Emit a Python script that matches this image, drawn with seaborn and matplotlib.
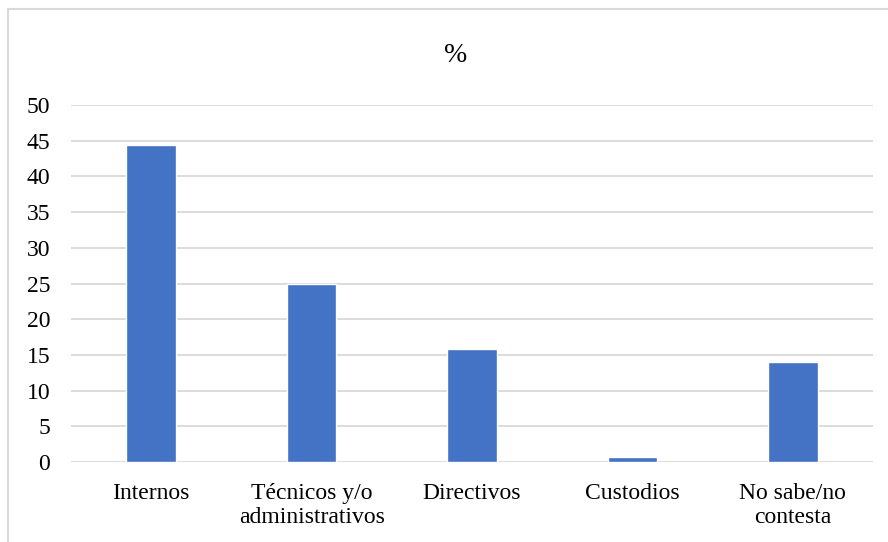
import matplotlib
matplotlib.use("Agg")
import matplotlib.pyplot as plt
import matplotlib.patches as mpatches
import seaborn as sns
import pandas as pd

categorias = ["Internos", "Técnicos y/o\nadministrativos", "Directivos", "Custodios", "No sabe/no\ncontesta"]
porcentajes = [44.4, 25.0, 15.8, 0.7, 14.0]
y_ticks = [0, 5, 10, 15, 20, 25, 30, 35, 40, 45, 50]

sns.set_theme(style="white")
plt.rcParams["font.family"] = ["Liberation Serif", "DejaVu Serif"]

df = pd.DataFrame({"categoria": categorias, "valor": porcentajes})

fig = plt.figure(figsize=(8.88, 5.42), dpi=100)
ax = fig.add_axes([71 / 888, 80 / 542, 802 / 888, 357 / 542])

sns.barplot(data=df, x="categoria", y="valor", color="#4472C4", width=0.31,
            saturation=1, ax=ax, zorder=3)

ax.set_ylim(0, 50)
ax.set_xlim(-0.5, 4.5)
ax.set_yticks(y_ticks)
ax.set_yticklabels([str(t) for t in y_ticks], fontsize=17)
ax.tick_params(axis="x", labelsize=17, length=0, pad=15)
ax.tick_params(axis="y", length=0, pad=15)
for lbl in ax.get_yticklabels() + ax.get_xticklabels():
    lbl.set_color("#000000")
    lbl.set_linespacing(1.17)
ax.set_xlabel("")
ax.set_ylabel("")
for s in ax.spines.values():
    s.set_visible(False)
ax.yaxis.grid(True, color="#D9D9D9", linewidth=1.3, zorder=0)
ax.set_axisbelow(True)

fig.text(456 / 888, 1 - 55 / 542, "%", ha="center", va="center", fontsize=20, color="#000000")

# chart frame
frame = mpatches.Rectangle((8 / 888, -0.1), 1.0, 1 - 9 / 542 + 0.1, transform=fig.transFigure,
                           fill=False, edgecolor="#D9D9D9", linewidth=1.5)
fig.patches.append(frame)

fig.savefig("out.png", dpi=100, facecolor="white")
